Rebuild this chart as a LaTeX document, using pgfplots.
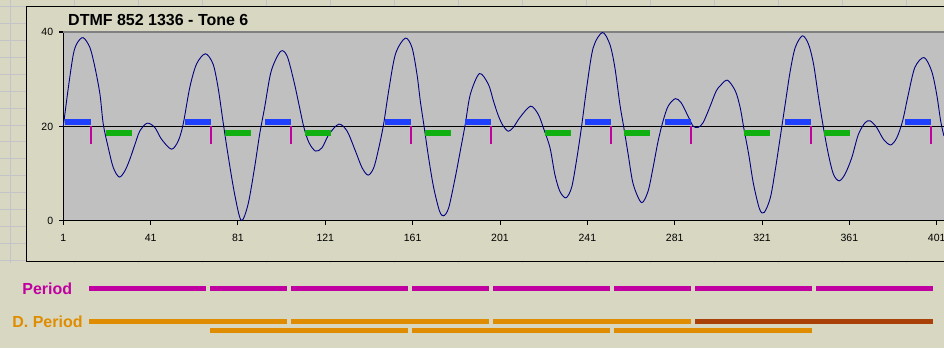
\documentclass[border=0pt]{standalone}
\usepackage{pgfplots}
\pgfplotsset{compat=1.18}
\usepackage{fontspec}
\setmainfont{Liberation Sans}
\definecolor{beige}{RGB}{216,216,194}
\definecolor{gridc}{RGB}{196,196,200}
\definecolor{plotgray}{RGB}{192,192,192}
\definecolor{navy}{RGB}{0,0,128}
\definecolor{mkblue}{RGB}{32,64,255}
\definecolor{mkgreen}{RGB}{16,176,16}
\definecolor{mkmag}{RGB}{192,0,160}
\definecolor{mkorange}{RGB}{224,140,0}
\definecolor{mkbrown}{RGB}{168,64,8}
\begin{document}
\begin{tikzpicture}[x=1pt,y=1pt]
\useasboundingbox (0,0) rectangle (944,348);
\clip (0,0) rectangle (944,348);
\fill[beige] (0,0) rectangle (944,348);
\foreach \k in {0,...,14} \draw[gridc, line width=1pt] ({10.5+64*\k},85) -- ({10.5+64*\k},348);
\foreach \k in {0,...,15} \draw[gridc, line width=1pt] (0,{341.5-16.93*\k}) -- (944,{341.5-16.93*\k});
\draw[black, fill=beige, line width=1pt] (26.5,86) rectangle (990,341);
\node[anchor=base west, inner sep=0pt, font=\bfseries\fontsize{16}{19}\selectfont] at (68,322) {DTMF 852 1336 - Tone 6};
\begin{axis}[
  at={(63.3pt,127pt)}, anchor=south west, scale only axis,
  width=880.6pt, height=189pt,
  xmin=1, xmax=404.3, ymin=0, ymax=40,
  axis x line*=bottom, axis y line*=left,
  axis line style={black, line width=1pt},
  axis background/.style={fill=plotgray},
  xtick={1,41,...,401}, ytick={0,20,40},
  tick align=outside, major tick length=4pt,
  tick style={black, line width=1pt},
  ymajorgrids, major grid style={black, line width=1pt},
  tick label style={font=\fontsize{10.5}{12}\selectfont},
  xticklabel style={anchor=north, inner sep=0pt, yshift=-9pt},
  yticklabel style={anchor=east, inner sep=0pt, xshift=-6pt},
  /pgf/number format/assume math mode=true,
  clip=false,
  unbounded coords=jump,
]
\draw[gray, line width=1pt] (rel axis cs:0,1) -- (rel axis cs:1,1);
\addplot[navy, line width=0.9pt, smooth, tension=0.5] coordinates {
(1,20.0) (3.3,28.2) (5.6,35.3) (7.4,37.7) (10.1,38.8) (13.2,36.7) (15.5,32.5) (17.8,26.8)
(19.3,20.5) (21.6,15.5) (23.9,11.3) (26.6,9.3) (29.2,10.6) (31.5,13.1) (33.8,16.2) (36,19.0)
(39.4,20.7) (42.9,19.8) (46,17.3) (50.5,15.2) (53.6,16.9) (55.9,20.5) (58.9,28.2) (62,33.2)
(66.1,35.4) (69.6,33.2) (71.9,28.2) (74.1,21.2) (76.4,14.1) (79.5,5.6) (82.5,0.1) (85.6,3.5)
(88.6,11.3) (90.9,18.3) (93.2,24.0) (96.2,31.7) (100.5,35.9) (103.5,34.9) (106.6,29.6) (108.9,24.7)
(111.2,19.8) (113.5,16.6) (116.5,14.8) (119.5,15.5) (122.6,18.3) (127.2,20.5) (131,19.0) (134.8,14.8)
(137.8,11.3) (140.6,9.7) (143.2,11.3) (145.5,15.5) (147.7,20.5) (150,27.5) (153.1,35.3) (157.6,38.7)
(160.7,36.7) (163,31.0) (164.5,25.4) (166.3,19.8) (168.3,13.4) (170.6,7.1) (173.3,2.1) (175.2,1.1)
(177.5,2.8) (180.5,9.2) (182.8,14.8) (185.1,20.5) (187.4,26.8) (191.6,31.2) (195.7,28.9) (198,25.4)
(200.3,22.2) (202.5,20.1) (204.8,19.0) (207.1,19.8) (210.1,21.9) (215,24.3) (218.5,22.6) (220.8,19.8)
(223.9,15.5) (226.1,9.9) (228.4,6.3) (231.2,4.9) (233.8,7.1) (236,12.7) (238.3,19.8) (240.9,28.9)
(243.7,36.7) (247.9,39.9) (251.3,37.4) (253.6,32.5) (255.9,24.7) (257.7,19.8) (259.7,14.1) (262,7.8)
(265.8,3.9) (268.8,6.3) (271.1,11.3) (273.4,16.9) (275.7,21.2) (278,24.3) (281.3,25.9) (284,25.0)
(287.1,22.2) (289.4,20.1) (291.7,19.8) (294,20.8) (297,24.0) (300,27.5) (302.2,28.8) (305.2,29.8)
(308.8,27.5) (311,24.0) (312.6,19.8) (314.9,14.1) (317.1,7.8) (319.9,2.5) (322,1.8) (324.8,4.9)
(327,10.6) (329.3,17.6) (331.6,24.7) (333.9,31.7) (336.2,36.7) (339.5,39.2) (342.3,37.4) (344.6,33.2)
(346.9,26.1) (349.1,19.8) (351.4,14.1) (353.7,9.9) (356.3,8.5) (359,9.9) (362.1,13.4) (365.1,18.3)
(368.2,20.8) (370.5,21.2) (373.5,19.8) (376.6,17.3) (379.9,16.1) (382.7,17.6) (385.4,21.2) (388,26.8)
(391,32.5) (395.2,34.6) (398.7,31.7) (401,26.8) (402.8,21.2) (404.3,18.0)
};
% crossing markers
\addplot[mkblue, line width=6pt] coordinates {
(1.8,21) (13.7,21) (nan,nan) (56.7,21) (68.6,21) (nan,nan) (93.4,21) (105.3,21) (nan,nan)
(148.3,21) (160.2,21) (nan,nan) (185.0,21) (196.9,21) (nan,nan) (239.9,21) (251.8,21) (nan,nan)
(276.6,21) (288.5,21) (nan,nan) (331.5,21) (343.4,21) (nan,nan) (386.5,21) (398.4,21)
};
\addplot[mkgreen, line width=5.7pt] coordinates {
(20.4,18.67) (32.5,18.67) (nan,nan) (75.1,18.67) (87.0,18.67) (nan,nan) (111.7,18.67) (123.6,18.67) (nan,nan)
(166.7,18.67) (178.6,18.67) (nan,nan) (221.6,18.67) (233.5,18.67) (nan,nan) (258.0,18.67) (269.9,18.67) (nan,nan)
(312.8,18.67) (324.7,18.67) (nan,nan) (349.4,18.67) (361.3,18.67)
};
\addplot[mkmag, line width=2pt] coordinates {
(13.5,20) (13.5,16.4) (nan,nan) (68.45,20) (68.45,16.4) (nan,nan) (105.1,20) (105.1,16.4) (nan,nan)
(160.05,20) (160.05,16.4) (nan,nan) (196.7,20) (196.7,16.4) (nan,nan) (251.65,20) (251.65,16.4) (nan,nan)
(288.3,20) (288.3,16.4) (nan,nan) (343.25,20) (343.25,16.4) (nan,nan) (398.2,20) (398.2,16.4)
};
% period bars below the chart
\addplot[mkmag, line width=5pt] coordinates {
(12.77,-14.29) (66.35,-14.29) (nan,nan) (68.19,-14.29) (103.45,-14.29) (nan,nan)
(105.28,-14.29) (158.87,-14.29) (nan,nan) (160.70,-14.29) (195.96,-14.29) (nan,nan)
(197.80,-14.29) (251.38,-14.29) (nan,nan) (253.21,-14.29) (288.47,-14.29) (nan,nan)
(290.31,-14.29) (343.89,-14.29) (nan,nan) (345.73,-14.29) (399.31,-14.29)
};
\addplot[mkorange, line width=5pt] coordinates {
(12.77,-21.27) (103.45,-21.27) (nan,nan) (105.28,-21.27) (195.96,-21.27) (nan,nan)
(197.80,-21.27) (288.47,-21.27)
};
\addplot[mkbrown, line width=5pt] coordinates {
(290.31,-21.27) (399.31,-21.27)
};
\addplot[mkorange, line width=5pt] coordinates {
(68.19,-23.17) (158.87,-23.17) (nan,nan) (160.70,-23.17) (251.38,-23.17) (nan,nan)
(253.21,-23.17) (343.89,-23.17)
};
\end{axis}
\node[text=mkmag, font=\bfseries\fontsize{16}{19}\selectfont, inner sep=0pt] at (47.3,59.7) {Period};
\node[text=mkorange, font=\bfseries\fontsize{16}{19}\selectfont, inner sep=0pt] at (47.5,26.7) {D. Period};
\end{tikzpicture}
\end{document}
